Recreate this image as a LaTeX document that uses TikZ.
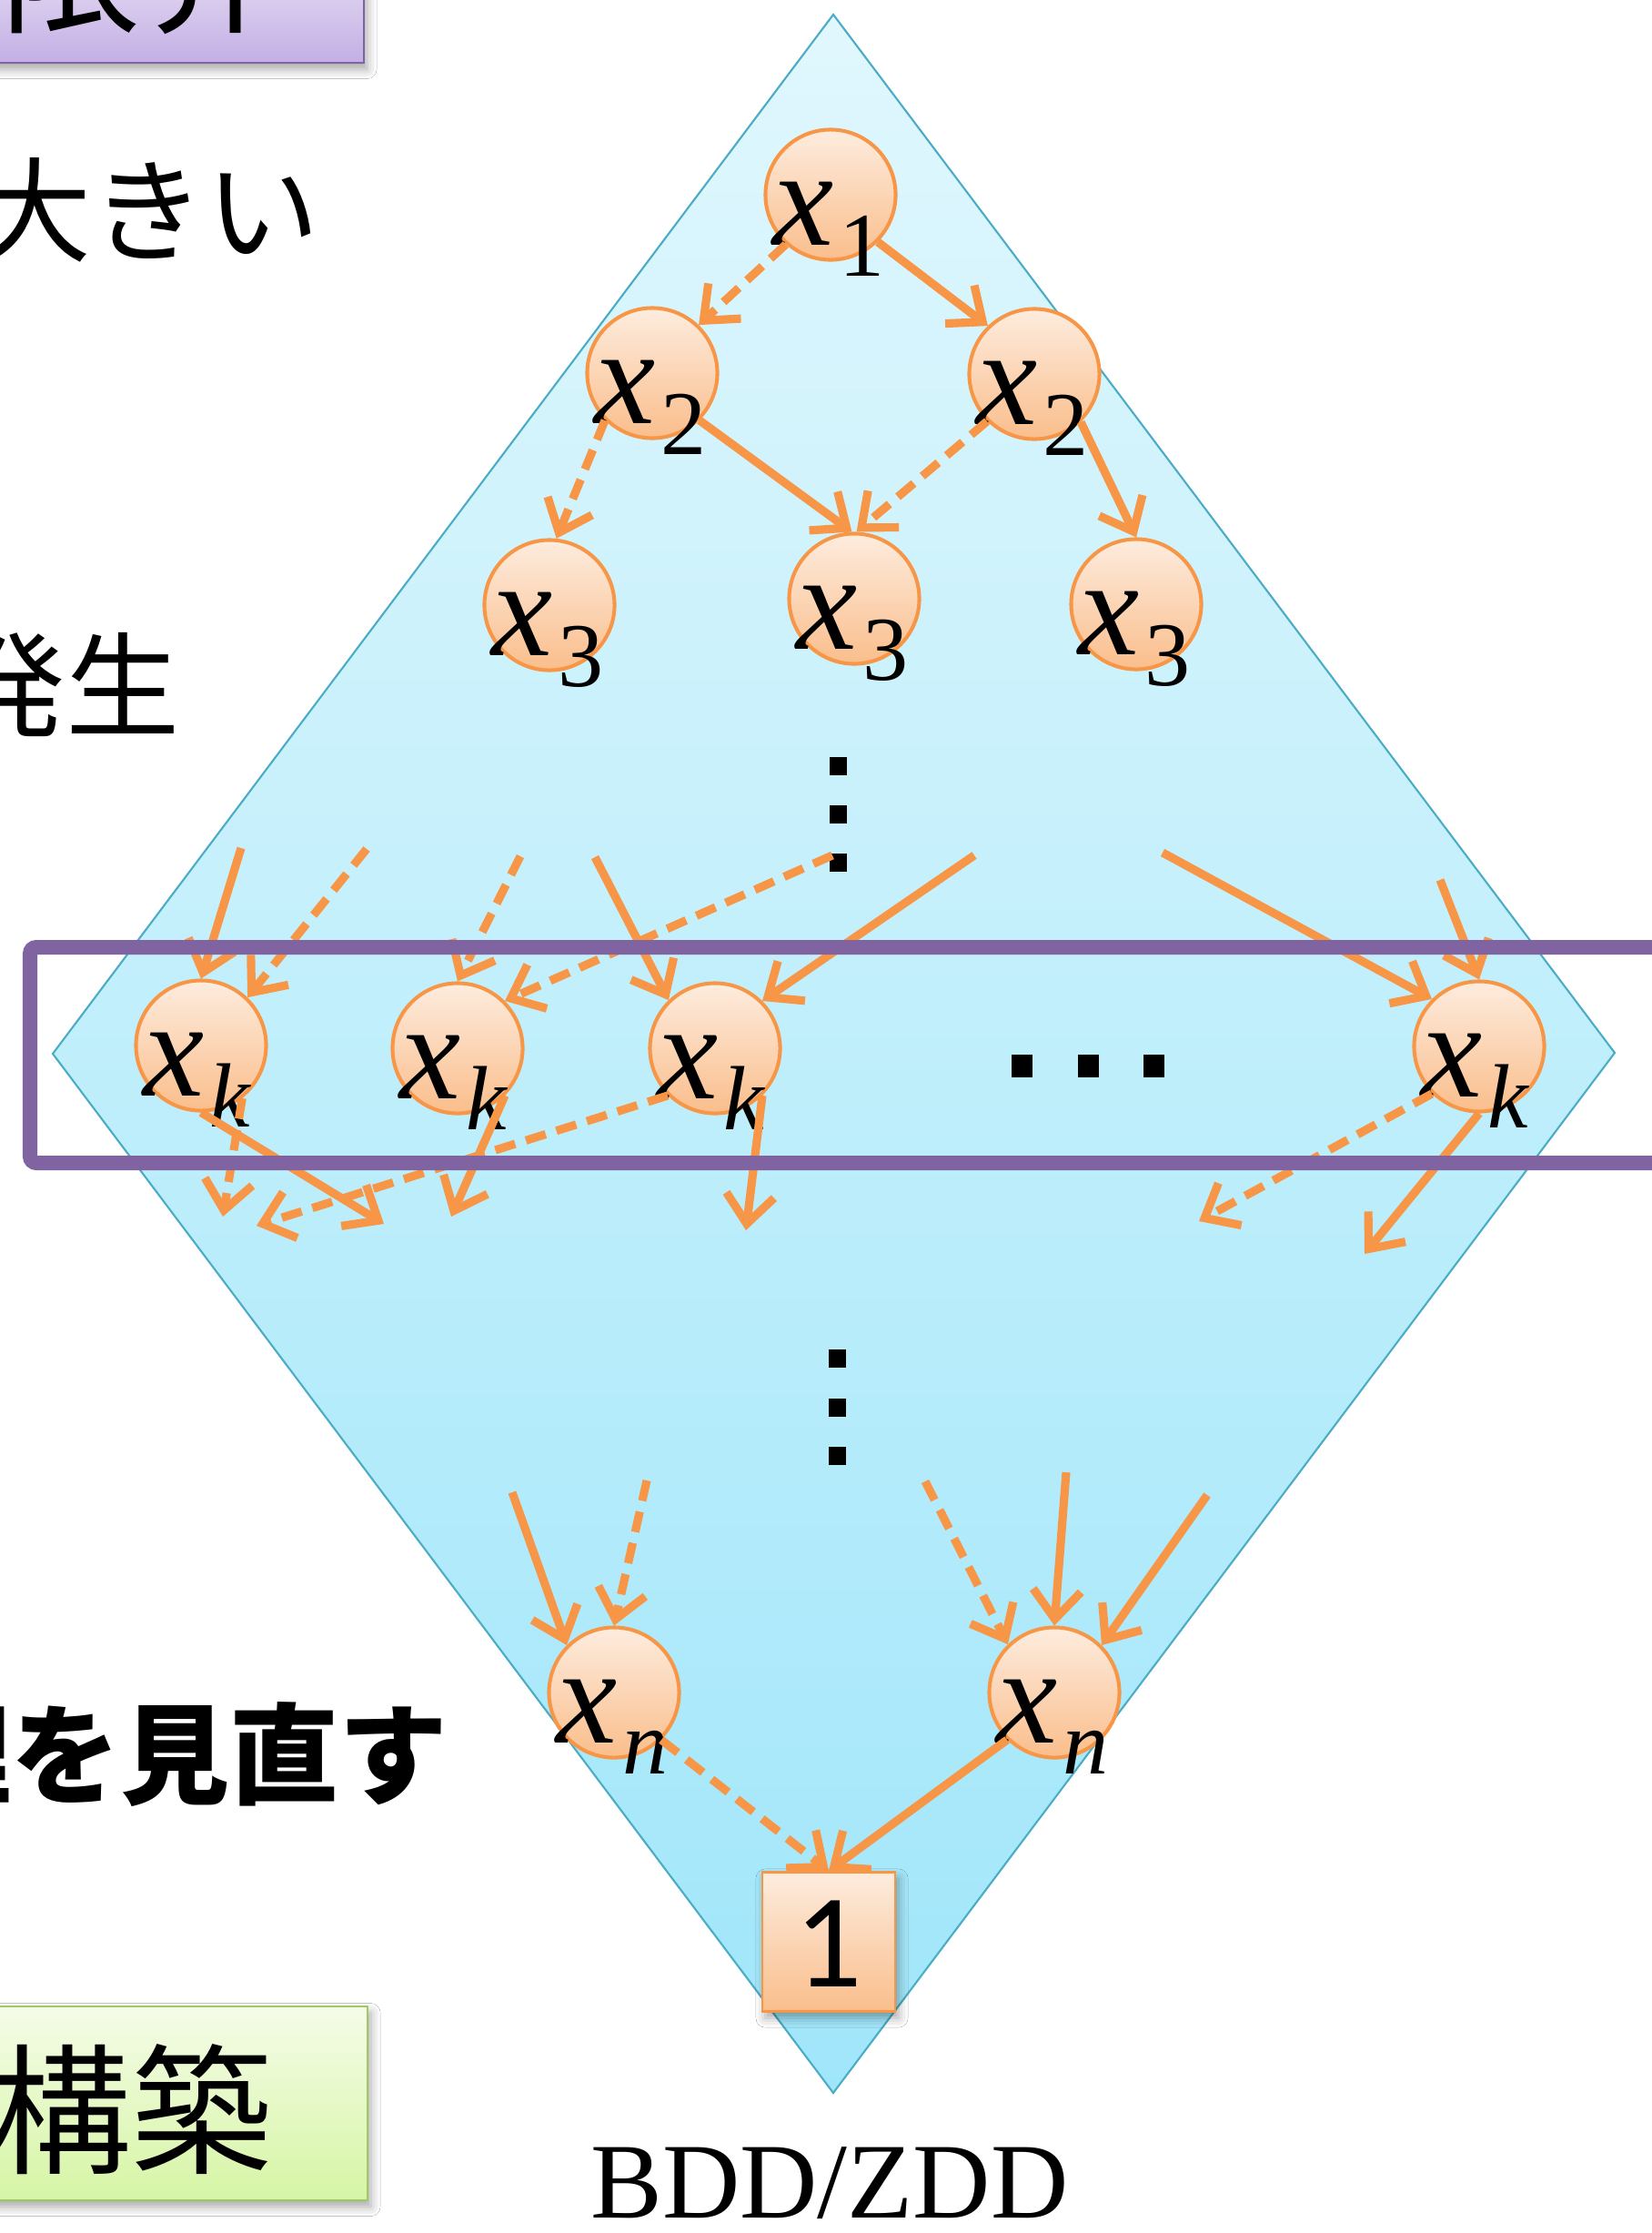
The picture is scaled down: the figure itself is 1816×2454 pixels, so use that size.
\documentclass[tikz,border=0pt]{standalone}
\usepackage{fontspec}
\setmainfont{Liberation Serif}
\newfontfamily\jp{Noto Sans CJK JP}
\newfontfamily\calib{Carlito}
\usetikzlibrary{arrows.meta,calc,shadows.blur}
\definecolor{orng}{RGB}{247,150,70}
\definecolor{ntop}{RGB}{253,236,222}
\definecolor{nbot}{RGB}{250,190,140}
\definecolor{purp}{RGB}{128,100,162}
\definecolor{dtop}{RGB}{224,247,253}
\definecolor{dbot}{RGB}{160,230,250}
\definecolor{dbrd}{RGB}{75,172,198}
\definecolor{ptop}{RGB}{223,212,241}
\definecolor{pbot}{RGB}{195,175,228}
\definecolor{gtop}{RGB}{245,252,232}
\definecolor{gbot}{RGB}{214,245,165}
\definecolor{gbrd}{RGB}{160,200,100}
\newcommand\xlab[1]{{\itshape x}\kern1.5pt\raisebox{-9.7pt}{\fontsize{28.5}{30}\selectfont #1}}
\tikzset{
  bnode/.style={circle,minimum size=1.43cm,inner sep=0pt,draw=orng,line width=1.15pt,top color=ntop,bottom color=nbot},
  lbl/.style={anchor=base west,inner sep=0pt,font=\fontsize{43}{45}\selectfont},
  conn/.style={draw=orng,line width=2.6pt,-{Straight Barb[length=9pt,width=15pt]}},
  hi/.style={conn},
  lo/.style={conn,dash pattern=on 6.5pt off 3.5pt},
  dotsq/.style={fill=black,minimum width=0.19cm,minimum height=0.2cm,inner sep=0pt},
  jpt/.style={anchor=base east,inner sep=0pt},
  shd/.style={blur shadow={shadow xshift=1pt,shadow yshift=-2pt,shadow blur radius=3pt,shadow opacity=35}}
}
\begin{document}
\begin{tikzpicture}[x=0.01cm,y=-0.01cm]
\useasboundingbox (0,0) rectangle (1816,2454);
\clip (0,0) rectangle (1816,2454);
\fill[white] (0,0) rectangle (1816,2454);
% top purple box
\path[shd,draw=purp,line width=0.8pt,top color=ptop,bottom color=pbot] (-20,-20) rectangle (400,69);
\node[anchor=base west,inner sep=0pt,font=\jp\fontsize{44.1}{50}\selectfont] (ttl) at (0,24) {限界};
% left texts
\node[jpt,font=\jp\fontsize{35.6}{40}\selectfont] (t1) at (352,278) {大きい};
\node[jpt,font=\jp\fontsize{35.6}{40}\selectfont] (t2) at (198,800) {発生};
\node[jpt,font=\jp\bfseries\fontsize{34.1}{40}\selectfont] (t3) at (493,1973) {理を見直す};
% green box
\path[shd,draw=gbrd,line width=0.8pt,top color=gtop,bottom color=gbot] (-20,2205) rectangle (404,2418);
\node[jpt,font=\jp\fontsize{44.1}{50}\selectfont] (t4) at (300,2377) {構築};
% diamond
\shade[top color=dtop,bottom color=dbot] (916,16) -- (1775,1157) -- (916,2300) -- (58,1158) -- cycle;
\draw[dbrd,line width=0.6pt,line join=miter] (916,16) -- (1775,1157) -- (916,2300) -- (58,1158) -- cycle;
% nodes
\node[bnode] (x1) at (913,214) {};
\node[bnode] (x2L) at (717,410) {};
\node[bnode] (x2R) at (1137,411) {};
\node[bnode] (x3L) at (604,665) {};
\node[bnode] (x3M) at (939,658) {};
\node[bnode] (x3R) at (1249,664) {};
\node[bnode] (k1) at (221,1149) {};
\node[bnode] (k2) at (503,1152) {};
\node[bnode] (k3) at (786,1152) {};
\node[bnode] (k4) at (1626,1150) {};
\node[bnode] (nL) at (675,1860) {};
\node[bnode] (nR) at (1159,1860) {};
\node[shd,draw=orng,line width=0.8pt,top color=ntop,bottom color=nbot,minimum width=1.46cm,minimum height=1.53cm,inner sep=0pt] (t) at (911,2134) {};
\node[anchor=base,inner sep=0pt,font=\calib\fontsize{41.8}{45}\selectfont] (one) at (911,2183) {1};
% labels
\foreach \n/\s in {x1/1,x2L/2,x2R/2,x3L/3,x3M/3,x3R/3,k1/\itshape k,k2/\itshape k,k3/\itshape k,k4/\itshape k,nL/\itshape n,nR/\itshape n}{
  \node[lbl] (lab-\n) at ($(\n)+(-64,55)$) {\xlab{\s}};
}
% dots
\node[dotsq] (v1) at (921,842) {};
\node[dotsq] (v2) at (921,895) {};
\node[dotsq] (v3) at (921,948) {};
\node[dotsq] (w1) at (920,1493) {};
\node[dotsq] (w2) at (920,1547) {};
\node[dotsq] (w3) at (920,1600) {};
\node[dotsq,minimum width=0.23cm,minimum height=0.25cm] (h1) at (1123,1171) {};
\node[dotsq,minimum width=0.23cm,minimum height=0.25cm] (h2) at (1196,1171) {};
\node[dotsq,minimum width=0.23cm,minimum height=0.25cm] (h3) at (1268,1171) {};
% free ends
\coordinate (s1) at (265,932);
\coordinate (s2) at (403,933);
\coordinate (s3) at (572,941);
\coordinate (s4) at (654,942);
\coordinate (s5) at (915,940);
\coordinate (s6) at (1071,940);
\coordinate (s7) at (1278,937);
\coordinate (s8) at (1583,967);
\coordinate (ea) at (245,1337);
\coordinate (eb) at (422,1345);
\coordinate (ec) at (282,1347);
\coordinate (ed) at (496,1337);
\coordinate (ee) at (820,1352);
\coordinate (ef) at (1318,1342);
\coordinate (eg) at (1500,1378);
\coordinate (u1) at (563,1640);
\coordinate (u2) at (711,1627);
\coordinate (u3) at (1017,1628);
\coordinate (u4) at (1172,1618);
\coordinate (u5) at (1327,1643);
% top edges
\draw[hi] (x1.315) -- (x2R.134);
\draw[lo] (x1.228) -- (x2L.46);
\draw[lo] (x2L.225) -- (x3L.84);
\draw[hi] (x2L.315) -- (x3M.92);
\draw[lo] (x2R.225) -- (x3M.88);
\draw[hi] (x2R.314) -- (x3R.90);
% incoming k
\draw[hi] (s1) -- (k1.90);
\draw[lo] (s2) -- (k1.46);
\draw[lo] (s3) -- (k2.90);
\draw[hi] (s4) -- (k3.134);
\draw[lo] (s5) -- (k2.45);
\draw[hi] (s6) -- (k3.45);
\draw[hi] (s7) -- (k4.135);
\draw[hi] (s8) -- (k4.90);
% outgoing k
\draw[lo] (k1.-52) -- (ea);
\draw[hi] (k1.270) -- (eb);
\draw[lo] (k3.225) -- (ec);
\draw[hi] (k2.315) -- (ed);
\draw[hi] (k3.315) -- (ee);
\draw[lo] (k4.225) -- (ef);
\draw[hi] (k4.270) -- (eg);
% lower
\draw[hi] (u1) -- (nL.135);
\draw[lo] (u2) -- (nL.90);
\draw[lo] (u3) -- (nR.134);
\draw[hi] (u4) -- (nR.90);
\draw[hi] (u5) -- (nR.45);
\draw[lo] (nL.315) -- (t.north);
\draw[hi] (nR.225) -- (t.north);
% frame
\draw[purp,line width=4.55pt,rounded corners=2pt] (33,1041) rectangle (1830,1278);
% caption
\node[anchor=base,inner sep=0pt,font=\fontsize{33.6}{38}\selectfont] (cap) at (912,2437) {BDD/ZDD};
\end{tikzpicture}
\end{document}
